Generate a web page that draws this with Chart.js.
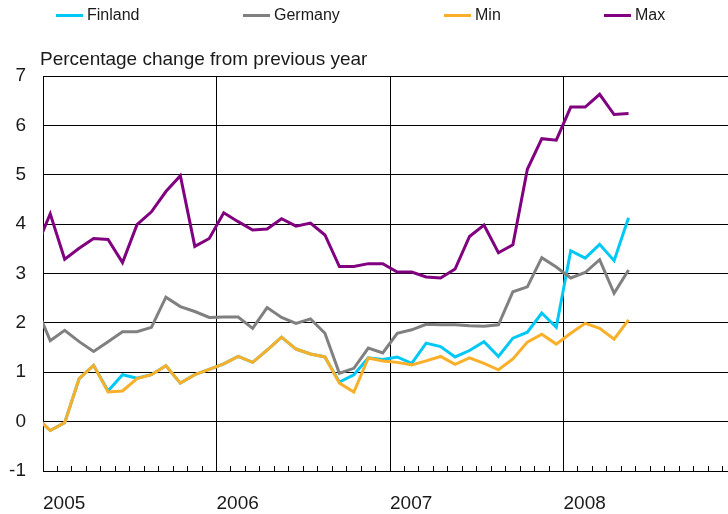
<!DOCTYPE html>
<html>
<head>
<meta charset="utf-8">
<script src="https://cdn.jsdelivr.net/npm/chart.js@4"></script>
<style>
  html, body { margin: 0; padding: 0; background: #fff; }
  body { width: 728px; height: 514px; overflow: hidden; position: relative; font-family: "Liberation Sans", Arial, sans-serif; color: #1a1a1a; }
  #chart { position: absolute; left: 0; top: 0; }
  .key { position: absolute; top: 6px; height: 18px; font-size: 16px; line-height: 18px; white-space: nowrap; }
  .key span.swatch { position: absolute; left: 0; top: 8px; width: 27px; height: 3px; }
  .key span.name { position: absolute; left: 31px; top: 0; }
  #ytitle { position: absolute; left: 40px; top: 50px; font-size: 19px; line-height: 18px; white-space: nowrap; }
</style>
</head>
<body>
<canvas id="chart" width="737" height="514"></canvas>
<div id="ytitle">Percentage change from previous year</div>
<script>
// monthly figures, Dec 2004 .. May 2008
var years = ['2005', '2006', '2007', '2008']
var finland = [0.10,
  -0.18, -0.02, 0.87, 1.14, 0.62, 0.95, 0.88, 0.95, 1.13, 0.78, 0.95, 1.06,
  1.17, 1.32, 1.20, 1.45, 1.71, 1.47, 1.37, 1.31, 0.80, 0.95, 1.29, 1.26,
  1.31, 1.18, 1.59, 1.52, 1.31, 1.44, 1.62, 1.32, 1.69, 1.81, 2.20, 1.91,
  3.46, 3.31, 3.59, 3.26, 4.13]
var germany = [2.33,
  1.64, 1.85, 1.62, 1.42, 1.62, 1.82, 1.82, 1.91, 2.52, 2.33, 2.23, 2.11,
  2.12, 2.12, 1.89, 2.31, 2.11, 1.99, 2.08, 1.79, 0.98, 1.08, 1.49, 1.39,
  1.79, 1.86, 1.97, 1.96, 1.96, 1.94, 1.93, 1.96, 2.63, 2.73, 3.32, 3.13,
  2.91, 3.02, 3.28, 2.60, 3.07]
var minimum = [0.10,
  -0.18, -0.02, 0.87, 1.14, 0.60, 0.62, 0.87, 0.95, 1.13, 0.78, 0.95, 1.06,
  1.17, 1.32, 1.20, 1.45, 1.71, 1.47, 1.37, 1.31, 0.78, 0.60, 1.29, 1.23,
  1.20, 1.15, 1.23, 1.32, 1.16, 1.29, 1.18, 1.05, 1.27, 1.61, 1.77, 1.57,
  1.79, 1.99, 1.89, 1.67, 2.06]
var maximum = [3.50,
  4.21, 3.29, 3.51, 3.71, 3.69, 3.22, 3.99, 4.25, 4.66, 4.98, 3.55, 3.71,
  4.23, 4.05, 3.88, 3.90, 4.11, 3.96, 4.02, 3.78, 3.14, 3.14, 3.20, 3.20,
  3.03, 3.03, 2.93, 2.91, 3.09, 3.75, 3.98, 3.42, 3.58, 5.11, 5.73, 5.70,
  6.37, 6.37, 6.63, 6.22, 6.24]

var seriesNames = ['Finland', 'Germany', 'Min', 'Max']
var seriesColors = ['rgb(0,200,245)', 'rgb(128,128,128)', 'rgb(250,175,40)', 'rgb(128,0,128)']
var seriesData = [finland, germany, minimum, maximum]
var drawOrder = [4, 3, 2, 1]
var keyLeft = [56, 243, 444, 604]

var font = "'Liberation Sans', Arial, sans-serif"

// each value sits in the middle of its month; first one is December 2004
function toPoints(values) {
  return values.map(function (v, i) {
    return { x: i - 0.5, y: v }
  })
}

var datasets = seriesData.map(function (values, k) {
  return {
    label: seriesNames[k],
    data: toPoints(values),
    borderColor: seriesColors[k],
    backgroundColor: seriesColors[k],
    borderWidth: 3,
    pointRadius: 0,
    tension: 0,
    fill: false,
    order: drawOrder[k]
  }
})

var mychart = new Chart(document.getElementById('chart'), {
  type: 'line',
  data: { datasets: datasets },
  options: {
    responsive: false,
    animation: false,
    devicePixelRatio: 1,
    layout: { padding: { top: 76, right: 0, bottom: 0, left: 0 } },
    plugins: {
      legend: { display: false },
      title: { display: false },
      tooltip: { enabled: false }
    },
    scales: {
      x: {
        type: 'linear',
        min: 0,
        max: 48,
        afterFit: function (scale) {
          scale.height = 43
          scale.paddingLeft = 0
          scale.paddingRight = 0
        },
        afterBuildTicks: function (scale) {
          var t = []
          for (var m = 0; m <= 48; m++) t.push({ value: m })
          scale.ticks = t
        },
        ticks: {
          autoSkip: false,
          maxRotation: 0,
          align: 'start',
          padding: 26,
          color: '#1a1a1a',
          font: { family: font, size: 19 },
          callback: function (value) {
            if (value % 12 === 0 && value / 12 < years.length) return years[value / 12]
            return ''
          }
        },
        grid: {
          color: function (ctx) {
            return ctx.tick && ctx.tick.value % 12 === 0 ? '#000' : 'rgba(0,0,0,0)'
          },
          tickColor: '#000',
          lineWidth: 1,
          tickLength: -5
        },
        border: { display: true, color: '#000', width: 1 }
      },
      y: {
        min: -1,
        max: 7,
        afterFit: function (scale) {
          scale.width = 43
          scale.paddingTop = 0
          scale.paddingBottom = 0
        },
        ticks: {
          stepSize: 1,
          padding: 17,
          color: '#1a1a1a',
          font: { family: font, size: 19 }
        },
        grid: { color: '#000', lineWidth: 1, drawTicks: false },
        border: { display: true, color: '#000', width: 1 }
      }
    }
  }
})

// legend row above the plot
seriesNames.forEach(function (name, k) {
  var item = document.createElement('div')
  item.className = 'key'
  item.style.left = keyLeft[k] + 'px'
  var sw = document.createElement('span')
  sw.className = 'swatch'
  sw.style.background = seriesColors[k]
  var txt = document.createElement('span')
  txt.className = 'name'
  txt.textContent = name
  item.appendChild(sw)
  item.appendChild(txt)
  document.body.appendChild(item)
})
</script>
</body>
</html>
